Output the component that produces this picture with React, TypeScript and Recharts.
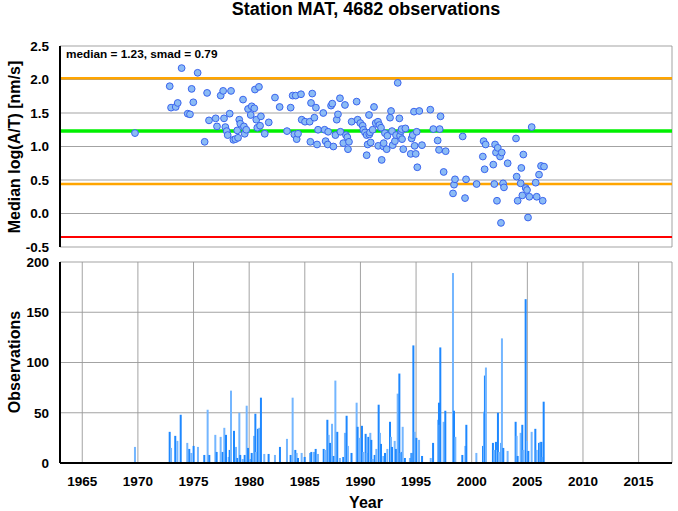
import React from 'react';
import { ComposedChart, Scatter, Bar, XAxis, YAxis, CartesianGrid, ReferenceLine } from 'recharts';

// ---------- data ----------
const medYears = [
  1969.74, 1972.86, 1972.98, 1973.40, 1973.58, 1973.93, 1974.48, 1974.68, 1974.83, 1974.98,
  1975.37, 1976.00, 1976.22, 1976.39, 1976.99, 1977.11, 1977.44, 1977.66, 1977.74, 1977.86,
  1977.98, 1978.07, 1978.25, 1978.37, 1978.58, 1978.76, 1979.00, 1978.93, 1979.11, 1979.20,
  1979.45, 1979.53, 1979.60, 1979.74, 1979.90, 1980.14, 1980.23, 1980.46, 1980.52, 1980.64,
  1980.73, 1980.88, 1980.98, 1981.06, 1981.40, 1981.76, 1982.32, 1982.74, 1983.40, 1983.73,
  1983.91, 1984.06, 1984.18, 1984.27, 1984.39, 1984.66, 1984.72, 1985.02, 1985.44, 1985.50,
  1985.56, 1985.67, 1985.86, 1986.00, 1986.10, 1986.19, 1986.66, 1986.78, 1986.87, 1987.06,
  1987.10, 1987.36, 1987.47, 1987.57, 1987.75, 1987.87, 1987.98, 1988.16, 1988.20, 1988.46,
  1988.61, 1988.70, 1988.82, 1988.88, 1988.97, 1989.21, 1989.66, 1989.75, 1989.99, 1990.20,
  1990.26, 1990.41, 1990.56, 1990.56, 1990.65, 1990.77, 1990.80, 1990.86, 1990.92, 1991.10,
  1991.22, 1991.37, 1991.58, 1991.60, 1991.70, 1991.85, 1991.91, 1992.06, 1992.09, 1992.20,
  1992.36, 1992.42, 1992.66, 1992.75, 1992.84, 1992.90, 1993.10, 1993.20, 1993.35, 1993.50,
  1993.56, 1993.65, 1993.70, 1993.74, 1993.85, 1994.04, 1994.52, 1994.60, 1994.70, 1994.81,
  1994.87, 1994.97, 1995.06, 1995.11, 1995.29, 1995.53, 1996.28, 1996.55, 1996.94, 1997.06,
  1997.12, 1997.20, 1997.48, 1997.66, 1998.32, 1998.41, 1998.50, 1999.19, 1999.40, 1999.49,
  2000.44, 2001.00, 2001.07, 2001.16, 2001.25, 2001.94, 2002.03, 2002.10, 2002.18, 2002.27,
  2002.34, 2002.55, 2002.63, 2002.70, 2002.82, 2002.90, 2003.23, 2003.98, 2004.04, 2004.13,
  2004.40, 2004.46, 2004.55, 2004.64, 2004.85, 2004.97, 2005.06, 2005.18, 2005.39, 2005.75,
  2005.84, 2006.05, 2006.23, 2006.38, 2006.50,
];
const medValues = [
  1.20, 1.90, 1.58, 1.59, 1.65, 2.17, 1.49, 1.48, 1.86, 1.66,
  2.10, 1.07, 1.80, 1.39, 1.42, 1.30, 1.76, 1.83, 1.42, 1.29,
  1.23, 1.17, 1.49, 1.83, 1.10, 1.11, 1.13, 1.24, 1.40, 1.34,
  1.70, 1.30, 1.19, 1.25, 1.56, 1.47, 1.60, 1.57, 1.85, 1.40,
  1.28, 1.89, 1.31, 1.45, 1.19, 1.36, 1.73, 1.59, 1.23, 1.58,
  1.76, 1.18, 1.76, 1.11, 1.19, 1.78, 1.40, 1.37, 1.37, 1.07,
  1.65, 1.79, 1.43, 1.58, 1.03, 1.25, 1.50, 1.25, 1.08, 1.03,
  1.22, 1.61, 1.64, 1.00, 1.17, 1.40, 1.48, 1.72, 1.22, 1.05,
  1.62, 1.17, 1.14, 0.96, 1.07, 1.37, 1.67, 1.40, 1.35, 1.31,
  1.25, 1.21, 1.17, 0.87, 1.03, 1.47, 1.18, 1.21, 1.06, 1.25,
  1.59, 1.35, 1.37, 1.01, 1.32, 1.28, 0.80, 1.00, 1.05, 1.20,
  0.96, 1.16, 1.43, 1.53, 1.23, 1.02, 1.08, 1.17, 1.95, 1.42,
  1.16, 1.23, 1.26, 1.11, 0.96, 1.27, 0.89, 1.12, 1.17, 1.52,
  1.01, 0.89, 1.22, 0.69, 1.53, 1.02, 1.55, 1.26, 1.09, 0.95,
  1.26, 1.45, 0.62, 0.93, 0.30, 0.43, 0.51, 1.15, 0.23, 0.51,
  0.44, 0.85, 1.08, 0.66, 1.03, 0.73, 0.44, 1.03, 0.91, 0.19,
  0.98, 0.85, -0.14, 0.91, 0.45, 0.39, 0.75, 1.12, 0.55, 0.19,
  0.45, 0.68, 0.27, 0.88, 0.38, 0.35, -0.06, 0.25, 1.29, 0.46,
  0.25, 0.58, 0.71, 0.19, 0.70,
];

const obsYears = [
  1969.74, 1972.86, 1972.98, 1973.36, 1973.55, 1973.85, 1974.44, 1974.62, 1974.80, 1975.01,
  1975.40, 1975.97, 1976.27, 1976.42, 1976.96, 1977.08, 1977.44, 1977.62, 1977.77, 1977.92,
  1978.16, 1978.25, 1978.37, 1978.64, 1978.82, 1978.94, 1979.12, 1979.20, 1979.42, 1979.60,
  1979.78, 1979.90, 1980.08, 1980.23, 1980.44, 1980.56, 1980.61, 1980.79, 1980.91, 1981.06,
  1981.36, 1981.75, 1982.32, 1982.77, 1983.40, 1983.73, 1983.91, 1984.15, 1984.27, 1984.39,
  1984.72, 1984.99, 1985.47, 1985.59, 1985.83, 1985.98, 1986.19, 1986.70, 1986.82, 1987.03,
  1987.15, 1987.27, 1987.45, 1987.60, 1987.75, 1987.92, 1988.16, 1988.46, 1988.61, 1988.76,
  1988.88, 1989.20, 1989.66, 1989.75, 1989.96, 1990.14, 1990.26, 1990.47, 1990.56, 1990.71,
  1990.89, 1990.98, 1991.10, 1991.28, 1991.43, 1991.64, 1991.76, 1991.85, 1992.06, 1992.21,
  1992.42, 1992.66, 1992.75, 1992.84, 1993.08, 1993.20, 1993.35, 1993.50, 1993.62, 1993.71,
  1993.80, 1994.00, 1994.45, 1994.58, 1994.69, 1994.76, 1994.88, 1995.03, 1995.27, 1995.54,
  1996.32, 1996.53, 1996.98, 1997.06, 1997.12, 1997.18, 1997.48, 1997.63, 1998.32, 1998.41,
  1998.53, 1999.16, 1999.43, 1999.52, 2000.42, 2001.02, 2001.11, 2001.19, 2001.28, 2001.91,
  2002.03, 2002.18, 2002.27, 2002.36, 2002.45, 2002.66, 2002.72, 2002.84, 2003.23, 2003.95,
  2004.04, 2004.13, 2004.40, 2004.55, 2004.64, 2004.85, 2004.97, 2005.09, 2005.39, 2005.72,
  2005.84, 2006.05, 2006.17, 2006.26, 2006.38, 2006.47,
];
const obsCounts = [
  16, 31, 15, 27, 22, 48, 20, 14, 10, 17,
  16, 8, 53, 8, 28, 11, 26, 11, 35, 28,
  6, 13, 72, 32, 16, 5, 50, 8, 4, 8,
  57, 15, 4, 10, 27, 49, 11, 34, 35, 65,
  9, 9, 8, 16, 24, 8, 65, 13, 10, 5,
  10, 6, 10, 11, 11, 14, 9, 14, 13, 43,
  28, 20, 39, 7, 82, 31, 5, 6, 30, 47,
  17, 10, 60, 36, 25, 37, 11, 29, 10, 26,
  30, 23, 4, 8, 14, 58, 30, 19, 7, 10,
  14, 41, 26, 16, 22, 14, 69, 89, 10, 11,
  36, 5, 5, 10, 10, 117, 31, 25, 23, 7,
  5, 20, 43, 60, 38, 115, 41, 52, 189, 52,
  26, 8, 17, 38, 10, 17, 51, 87, 95, 20,
  13, 21, 13, 50, 11, 20, 124, 15, 12, 41,
  27, 7, 30, 38, 13, 163, 22, 12, 31, 34,
  13, 20, 21, 21, 6, 61,
];

const yearTicks = [1965, 1970, 1975, 1980, 1985, 1990, 1995, 2000, 2005, 2010, 2015];
const medTicks = [-0.5, 0, 0.5, 1, 1.5, 2, 2.5];
const obsTicks = [0, 50, 100, 150, 200];
const medianLevel = 1.23;
const smad = 0.79;
const totalObs = 4682;

const medData = medYears.map((y, i) => ({ year: y, value: medValues[i] }));
const obsData = obsYears.map((y, i) => ({ year: y, count: obsCounts[i] }));

const FONT = '"Liberation Sans", Arial, Helvetica, sans-serif';
const tickStyle = { fill: '#000', fontSize: 13.5, fontWeight: 'bold', fontFamily: FONT };
const blank = () => '';

const Dot = (p: any) => (
  <circle cx={p.cx} cy={p.cy} r={3.4} fill="#8BBBF5" stroke="#3A64EE" strokeWidth={1} />
);

const Spike = (p: any) => {
  const { x, y, width, height, index } = p;
  if (height == null || isNaN(height)) return null;
  const cx = x + width / 2;
  const fill = index % 2 === 0 ? '#74B6FF' : '#1E88FF';
  return <rect x={cx - 1} y={y} width={2} height={height} fill={fill} />;
};

export default function App() {
  return (
    <div style={{ position: 'absolute', left: 0, top: 0, width: 678, height: 511, background: '#fff', fontFamily: FONT }}>
      <div style={{ position: 'absolute', left: 0, top: 0 }}>
        <ComposedChart width={678} height={258} data={medData} margin={{ top: 46, right: 6, bottom: 11, left: 0 }}>
          <CartesianGrid xAxisId="x" yAxisId="y" stroke="#999" strokeWidth={0.9} />
          <XAxis xAxisId="x" dataKey="year" type="number" domain={[1963, 2018]} ticks={yearTicks} height={0}
            tick={false} tickLine={false} axisLine={{ stroke: '#000', strokeWidth: 2 }} allowDataOverflow interval={0} />
          <XAxis xAxisId="xt" orientation="top" type="number" domain={[1963, 2018]} ticks={yearTicks} height={0}
            tickSize={4} tickFormatter={blank} tickLine={{ stroke: '#000' }} axisLine={{ stroke: '#000', strokeWidth: 1 }} allowDataOverflow interval={0} />
          <YAxis yAxisId="y" dataKey="value" type="number" domain={[-0.5, 2.5]} ticks={medTicks} width={60}
            tickSize={0} tickMargin={11} tickFormatter={(v: number) => v.toFixed(1)} tick={tickStyle}
            tickLine={false} axisLine={{ stroke: '#000', strokeWidth: 2 }} allowDataOverflow interval={0} />
          <YAxis yAxisId="yr" orientation="right" type="number" domain={[-0.5, 2.5]} ticks={medTicks} width={0}
            tickSize={4} tickFormatter={blank} tickLine={{ stroke: '#333' }} axisLine={{ stroke: '#333', strokeWidth: 1.5 }} allowDataOverflow interval={0} />
          <ReferenceLine xAxisId="x" yAxisId="y" y={medianLevel + smad} stroke="#FFA500" strokeWidth={2.5} />
          <ReferenceLine xAxisId="x" yAxisId="y" y={medianLevel - smad} stroke="#FFA500" strokeWidth={2.5} />
          <ReferenceLine xAxisId="x" yAxisId="y" y={medianLevel - 2 * smad} stroke="#FF0000" strokeWidth={2} />
          <ReferenceLine xAxisId="x" yAxisId="y" y={medianLevel} stroke="#00F000" strokeWidth={3.5} />
          <Scatter xAxisId="x" yAxisId="y" data={medData} shape={Dot} isAnimationActive={false} />
        </ComposedChart>
      </div>
      <div style={{ position: 'absolute', left: 0, top: 250 }}>
        <ComposedChart width={678} height={261} data={obsData} margin={{ top: 12, right: 6, bottom: 0, left: 0 }}>
          <CartesianGrid xAxisId="x" yAxisId="y" stroke="#999" strokeWidth={0.9} />
          <XAxis xAxisId="x" dataKey="year" type="number" domain={[1963, 2018]} ticks={yearTicks} height={48}
            tickSize={0} tickMargin={13} tick={tickStyle} tickLine={false}
            axisLine={{ stroke: '#000', strokeWidth: 2 }} allowDataOverflow interval={0} />
          <XAxis xAxisId="xt" orientation="top" type="number" domain={[1963, 2018]} ticks={yearTicks} height={0}
            tickSize={4} tickFormatter={blank} tickLine={{ stroke: '#000' }} axisLine={{ stroke: '#000', strokeWidth: 1 }} allowDataOverflow interval={0} />
          <YAxis yAxisId="y" type="number" domain={[0, 200]} ticks={obsTicks} width={60}
            tickSize={0} tickMargin={11} tick={tickStyle} tickLine={false}
            axisLine={{ stroke: '#000', strokeWidth: 2 }} allowDataOverflow interval={0} />
          <YAxis yAxisId="yr" orientation="right" type="number" domain={[0, 200]} ticks={obsTicks} width={0}
            tickSize={4} tickFormatter={blank} tickLine={{ stroke: '#333' }} axisLine={{ stroke: '#333', strokeWidth: 1.5 }} allowDataOverflow interval={0} />
          <Bar xAxisId="x" yAxisId="y" dataKey="count" barSize={2} shape={Spike} isAnimationActive={false} />
        </ComposedChart>
      </div>
      <svg width={678} height={511} style={{ position: 'absolute', left: 0, top: 0, pointerEvents: 'none' }}
        fontFamily={FONT} fontWeight="bold">
        <text x={366} y={15} textAnchor="middle" fontSize={18}>{`Station MAT, ${totalObs} observations`}</text>
        <text x={66} y={58} fontSize={11.8}>{`median = ${medianLevel.toFixed(2)}, smad = ${smad.toFixed(2)}`}</text>
        <text transform="translate(14,147) rotate(-90)" textAnchor="middle" dominantBaseline="central" fontSize={16}>Median log(A/T) [nm/s]</text>
        <text transform="translate(14,362) rotate(-90)" textAnchor="middle" dominantBaseline="central" fontSize={16}>Observations</text>
        <text x={366} y={508} textAnchor="middle" fontSize={16}>Year</text>
      </svg>
    </div>
  );
}
